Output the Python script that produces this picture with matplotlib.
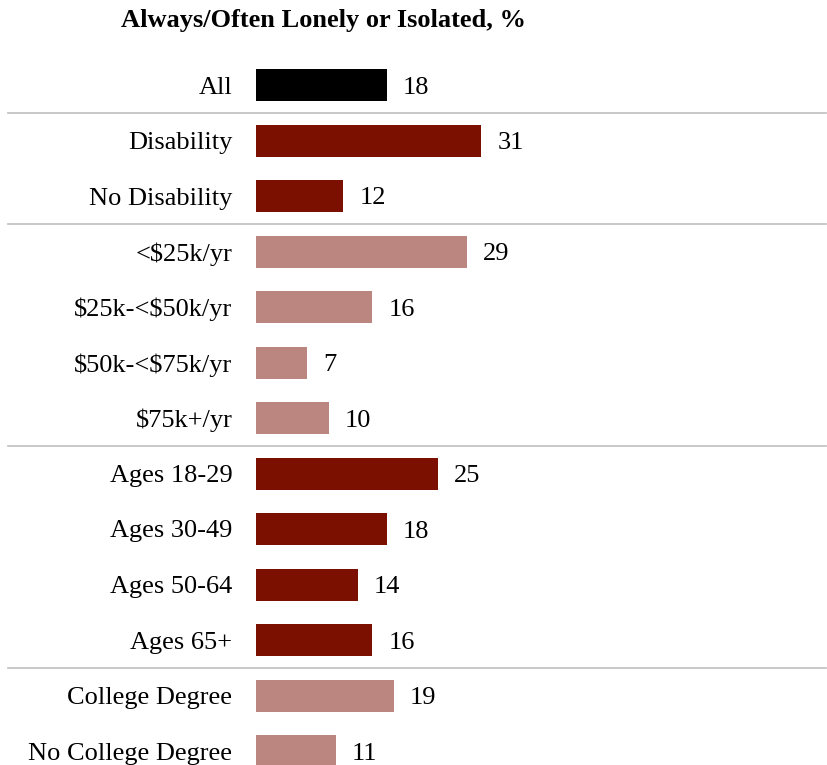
import matplotlib.pyplot as plt
from matplotlib.transforms import blended_transform_factory

plt.rcParams['font.family'] = ['Liberation Serif', 'DejaVu Serif']
plt.rcParams['text.parse_math'] = False

categories = ["All", "Disability", "No Disability", "<$25k/yr", "$25k-<$50k/yr",
              "$50k-<$75k/yr", "$75k+/yr", "Ages 18-29", "Ages 30-49", "Ages 50-64",
              "Ages 65+", "College Degree", "No College Degree"]
values = [18, 31, 12, 29, 16, 7, 10, 25, 18, 14, 16, 19, 11]
groups = [0, 1, 1, 2, 2, 2, 2, 1, 1, 1, 1, 2, 2]
title = "Always/Often Lonely or Isolated, %"

group_colors = {0: "#000000", 1: "#7B0F00", 2: "#BC8680"}
colors = [group_colors[g] for g in groups]

W, H = 828, 765
fig = plt.figure(figsize=(W / 100, H / 100), dpi=100)

# axes placement in pixels
left_px, right_px = 256, 826
top_px, bot_px = 57.25, 765
ax = fig.add_axes([left_px / W, 1 - bot_px / H, (right_px - left_px) / W, (bot_px - top_px) / H])

px_per_unit = 7.27
row_px = 55.5
ax.set_xlim(0, (right_px - left_px) / px_per_unit)
ax.set_ylim(12 + (bot_px - 751) / row_px, -0.5)

ypos = list(range(len(categories)))
ax.barh(ypos, values, height=32 / row_px, color=colors)

for y, v in zip(ypos, values):
    ax.annotate(str(v), (v, y), xytext=(11.5, 0), textcoords="offset points",
                ha="left", va="center_baseline", fontsize=19)

ax.set_yticks(ypos)
ax.set_yticklabels(categories, fontsize=19)
ax.tick_params(axis="y", length=0, pad=17)
ax.set_xticks([])
for s in ax.spines.values():
    s.set_visible(False)

# separators between groups, spanning almost the full width
trans = blended_transform_factory(fig.transFigure, ax.transData)
for b in [0.5, 2.5, 6.5, 10.5]:
    ax.plot([8 / W, 826 / W], [b, b], color="#BFBFBF", lw=1.2, transform=trans, clip_on=False)

fig.text(324 / W, 1 - 21 / H, title, ha="center", va="center", fontsize=19, fontweight="bold")

fig.savefig("out.png", dpi=100)
